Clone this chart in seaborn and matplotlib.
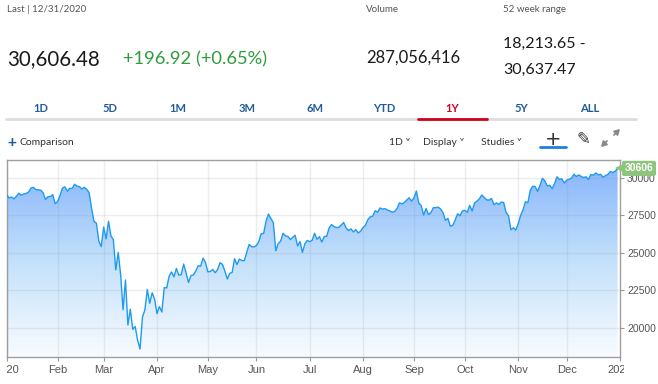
import numpy as np
import pandas as pd
import seaborn as sns
import matplotlib.pyplot as plt
from matplotlib.colors import LinearSegmentedColormap
from matplotlib.lines import Line2D
from matplotlib.patches import Rectangle

# daily closes, 2020, one list per month (trading days)
jan = [28868.80, 28634.88, 28703.38, 28583.68, 28745.09, 28956.90, 28823.77, 28907.05,
       28939.67, 29030.22, 29297.64, 29348.10, 29196.04, 29186.27, 29160.09, 28989.73,
       28535.80, 28722.85, 28734.45, 28859.44, 28256.03]
feb = [28399.81, 28807.63, 29290.85, 29379.77, 29102.51, 29276.82, 29276.34, 29551.42,
       29423.31, 29398.08, 29232.19, 29348.03, 29219.98, 28992.41, 27960.80, 27081.36,
       26957.59, 25766.64, 25409.36]
mar = [26703.32, 25917.41, 27090.86, 26121.28, 25864.78, 23851.02, 25018.16, 23553.22,
       21200.62, 23185.62, 20188.52, 21237.38, 19898.92, 20087.19, 19173.98, 18591.93,
       20704.91, 21200.55, 22552.17, 21636.78, 22327.48, 21917.16]
apr = [20943.51, 21413.44, 21052.53, 22679.99, 22653.86, 23433.57, 23719.37, 23390.77,
       23949.76, 23504.35, 23537.68, 24242.49, 23650.44, 23018.88, 23475.82, 23515.26,
       23775.27, 24133.78, 24101.55, 24633.86, 24345.72]
may = [23723.69, 23749.76, 23883.09, 23664.64, 23875.89, 24331.32, 24221.99, 23764.78,
       23247.97, 23625.34, 23685.42, 24597.37, 24206.86, 24575.90, 24474.12, 24465.16,
       24995.11, 25548.27, 25400.64, 25383.11]
jun = [25475.02, 25742.65, 26269.89, 26281.82, 27110.98, 27572.44, 27272.30, 26989.99,
       25128.17, 25605.54, 25763.16, 26289.98, 26119.61, 26080.10, 25871.46, 26024.96,
       26156.10, 25445.94, 25745.60, 25015.55, 25595.80, 25812.88]
jul = [25734.97, 25827.36, 26287.03, 25890.18, 26067.28, 25706.09, 26075.30, 26085.80,
       26642.59, 26870.10, 26734.71, 26671.95, 26680.87, 26840.40, 27005.84, 26652.33,
       26469.89, 26584.77, 26379.28, 26539.57, 26313.65, 26428.32]
aug = [26664.40, 26828.47, 27201.52, 27386.98, 27433.48, 27791.44, 27686.91, 27976.84,
       27896.72, 27931.02, 27844.91, 27778.07, 27692.88, 27739.73, 27930.33, 28308.46,
       28248.44, 28331.92, 28492.27, 28653.87, 28430.05]
sep = [28645.66, 29100.50, 28292.73, 28133.31, 27500.89, 27940.47, 27534.58, 27665.64,
       27993.33, 27995.60, 28032.38, 27901.98, 27657.42, 27147.70, 27288.18, 26763.13,
       26815.44, 27173.96, 27584.06, 27452.66, 27781.70]
oct_ = [27816.90, 27682.81, 28148.64, 27772.76, 28303.46, 28425.51, 28586.90, 28837.52,
        28679.81, 28514.00, 28494.20, 28606.31, 28195.42, 28308.79, 28210.82, 28363.66,
        28335.57, 27685.38, 27463.19, 26519.95, 26659.11, 26501.60]
nov = [26925.05, 27480.03, 27847.66, 28390.18, 28323.40, 29157.97, 29420.92, 29397.63,
       29080.17, 29479.81, 29950.44, 29783.35, 29438.42, 29483.23, 29263.48, 29591.27,
       30046.24, 29872.47, 29910.37, 29638.64]
dec = [29823.92, 29883.79, 29969.52, 30218.26, 30069.79, 30173.88, 30068.81, 29999.26,
       30046.37, 29861.55, 30199.31, 30154.54, 30303.37, 30179.05, 30216.45, 30015.51,
       30129.83, 30199.87, 30403.97, 30335.67, 30409.56, 30606.48]

month_labels = ["2020", "Feb", "Mar", "Apr", "May", "Jun", "Jul", "Aug", "Sep",
                "Oct", "Nov", "Dec", "2021"]
y_ticks = [20000, 22500, 25000, 27500, 30000]
tabs = ["1D", "5D", "1M", "3M", "6M", "YTD", "1Y", "5Y", "ALL"]

months = [jan, feb, mar, apr, may, jun, jul, aug, sep, oct_, nov, dec]
closes = [v for m in months for v in m]
tick_pos = np.concatenate([[0], np.cumsum([len(m) for m in months])])
df = pd.DataFrame({"day": np.arange(len(closes)), "close": closes})

W, H = 658, 384
sns.set_style("white")
plt.rcParams["font.family"] = ["Liberation Sans", "DejaVu Sans"]

fig = plt.figure(figsize=(W / 100, H / 100), dpi=100)


def fx(px):
    return px / W


def fy(py):
    return 1 - py / H


HEAD = ["Lato", "DejaVu Sans"]

# header block
fig.text(fx(7), fy(10), "Last | 12/31/2020", fontsize=7, color="#555555", va="center", family=HEAD)
fig.text(fx(7), fy(59), "30,606.48", fontsize=14.8, color="#1a1a1a", va="center", family=HEAD)
fig.text(fx(123), fy(59), "+196.92 (+0.65%)", fontsize=13.2, color="#2e9e3c", va="center", family=HEAD)
fig.text(fx(366), fy(9), "Volume", fontsize=7, color="#555555", va="center", family=HEAD)
fig.text(fx(366), fy(58), "287,056,416", fontsize=12, color="#1a1a1a", va="center", family=HEAD)
fig.text(fx(503), fy(9), "52 week range", fontsize=7, color="#555555", va="center", family=HEAD)
fig.text(fx(503), fy(44), "18,213.65 -", fontsize=11.5, color="#1a1a1a", va="center", family=HEAD)
fig.text(fx(503), fy(70), "30,637.47", fontsize=11.5, color="#1a1a1a", va="center", family=HEAD)

# range tabs
for i, t in enumerate(tabs):
    c = "#d0021b" if t == "1Y" else "#1f5c99"
    fig.text(fx(41 + i * 68.6), fy(109), t, fontsize=8, color=c, ha="center", va="center",
             family=HEAD, weight="bold")
fig.add_artist(Line2D([fx(6), fx(636)], [fy(119), fy(119)], color="#dddddd", lw=2))
fig.add_artist(Line2D([fx(418), fx(487)], [fy(119), fy(119)], color="#d0021b", lw=2))

# toolbar row
fig.text(fx(7), fy(143), "+", fontsize=11, color="#1f5c99", va="center", weight="bold")
fig.text(fx(20), fy(143), "Comparison", fontsize=7.5, color="#333333", va="center", family=HEAD)
fig.text(fx(389), fy(143), "1D ˅", fontsize=7.5, color="#333333", va="center", family=HEAD)
fig.text(fx(423), fy(143), "Display ˅", fontsize=7.5, color="#333333", va="center", family=HEAD)
fig.text(fx(481), fy(143), "Studies ˅", fontsize=7.5, color="#333333", va="center", family=HEAD)
fig.text(fx(553), fy(139), "+", fontsize=14, color="#333333", ha="center", va="center", family="DejaVu Sans")
fig.add_artist(Line2D([fx(540), fx(566)], [fy(147), fy(147)], color="#1f7fd9", lw=2))
fig.text(fx(583), fy(139), "✎", fontsize=12, color="#333333", ha="center", va="center", family="DejaVu Sans")
# expand icon (two diagonal arrows pointing outwards)
for (x0, y0), (x1, y1) in [((614, 135), (620, 129)), ((607, 141), (601, 147))]:
    fig.add_artist(plt.Annotation("", xy=(fx(x1), fy(y1)), xytext=(fx(x0), fy(y0)),
                                  xycoords="figure fraction", textcoords="figure fraction",
                                  arrowprops=dict(arrowstyle="-|>,head_length=0.3,head_width=0.18",
                                                  color="#8a8a8a", lw=1.3,
                                                  shrinkA=0, shrinkB=0)))

# chart
ax = fig.add_axes([fx(6.7), fy(357), fx(620) - fx(6.7), (357 - 160) / H])
ymin, ymax = 18060, 31165
xmax = tick_pos[-1]

sns.lineplot(data=df, x="day", y="close", ax=ax, color="#1e9bef", lw=1.0, zorder=3)
poly = ax.fill_between(df["day"], df["close"], ymin, color="none", lw=0)
grad = np.linspace(0, 1, 256).reshape(-1, 1)
cmap = LinearSegmentedColormap.from_list("g", ["#f8fbff", "#c2e0fb", "#84b3fb"])
im = ax.imshow(grad, cmap=cmap, aspect="auto", origin="lower",
               extent=[0, xmax, ymin, ymax], zorder=1)
im.set_clip_path(poly.get_paths()[0], transform=ax.transData)

ax.set_xlim(0, xmax)
ax.set_ylim(ymin, ymax)
ax.set_xlabel("")
ax.set_ylabel("")

ax.set_xticks(tick_pos)
ax.set_xticklabels(month_labels)
ax.yaxis.tick_right()
ax.set_yticks(y_ticks)
ax.set_yticklabels([str(v) for v in y_ticks])
ax.tick_params(axis="x", length=3, color="#999999", labelsize=8, labelcolor="#555555", pad=3,
               bottom=True)
ax.tick_params(axis="y", length=3, color="#999999", labelsize=7.5, labelcolor="#555555", pad=2,
               right=True)
ax.grid(True, color="#8c8c99", alpha=0.15, lw=1)
ax.set_axisbelow(False)
for s in ax.spines.values():
    s.set_color("#a0a0a0")
    s.set_linewidth(1)

clip = Rectangle((fx(6), 0), fx(624) - fx(6), 1, transform=fig.transFigure)
for lbl in ax.get_xticklabels():
    lbl.set_clip_path(clip)

# last value flag
last_y = df["close"].iloc[-1]
ax.plot([xmax], [last_y], marker="<", ms=7, color="#8cc57b", clip_on=False, zorder=5,
        markeredgewidth=0)
ax.annotate(f"{int(last_y)}", xy=(xmax, last_y), xytext=(19, 0), textcoords="offset pixels",
            ha="center", va="center", fontsize=7.5, color="white", weight="bold",
            annotation_clip=False, zorder=6,
            bbox=dict(boxstyle="round,pad=0.25,rounding_size=0.2", fc="#8cc57b", ec="none"))

fig.savefig("out.png", dpi=100)
